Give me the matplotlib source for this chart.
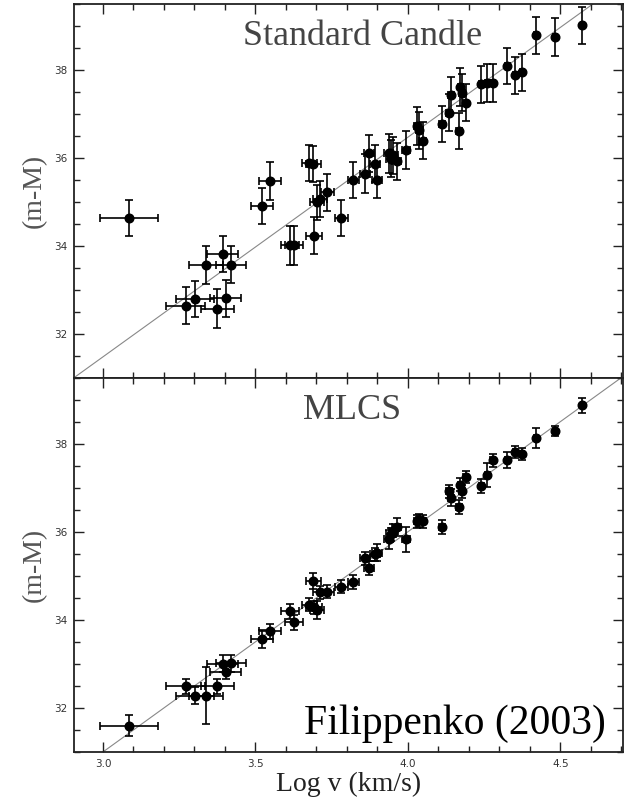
import matplotlib.pyplot as plt
from matplotlib.ticker import MultipleLocator

# log v (km/s) for each supernova, shared by both panels
log_v = [3.085, 3.272, 3.302, 3.339, 3.375, 3.392, 3.402, 3.419,
         3.523, 3.548, 3.613, 3.627, 3.677, 3.690, 3.692, 3.703,
         3.712, 3.736, 3.782, 3.821, 3.860, 3.873, 3.891, 3.899,
         3.937, 3.944, 3.952, 3.963, 3.995, 4.031, 4.037, 4.048,
         4.112, 4.134, 4.142, 4.167, 4.172, 4.177, 4.189, 4.240,
         4.260, 4.278, 4.326, 4.351, 4.373, 4.420, 4.482, 4.572]
log_v_err = [0.096, 0.064, 0.062, 0.056, 0.055, 0.050, 0.050, 0.050,
             0.036, 0.035, 0.030, 0.030, 0.025, 0.025, 0.025, 0.023,
             0.023, 0.022, 0.020, 0.018, 0.017, 0.017, 0.016, 0.016,
             0.015, 0.015, 0.015, 0.014, 0.013, 0.012, 0.012, 0.012,
             0.010, 0.010, 0.010, 0.009, 0.009, 0.009, 0.009, 0.008,
             0.008, 0.008, 0.007, 0.007, 0.007, 0.006, 0.006, 0.005]

# distance modulus, standard candle assumption
mu_sc = [34.63, 32.63, 32.79, 33.56, 32.57, 33.81, 32.80, 33.57,
         34.91, 35.47, 34.01, 34.01, 35.88, 35.85, 34.23, 34.99,
         35.06, 35.22, 34.63, 35.49, 35.64, 36.10, 35.87, 35.50,
         36.10, 35.98, 36.06, 35.92, 36.17, 36.72, 36.63, 36.39,
         36.76, 37.03, 37.43, 36.62, 37.62, 37.48, 37.25, 37.67,
         37.70, 37.71, 38.09, 37.88, 37.95, 38.79, 38.75, 39.02]
mu_sc_err = [0.42, 0.42, 0.41, 0.43, 0.44, 0.40, 0.42, 0.42,
             0.41, 0.43, 0.44, 0.44, 0.41, 0.41, 0.42, 0.40,
             0.41, 0.42, 0.42, 0.41, 0.44, 0.43, 0.41, 0.41,
             0.44, 0.42, 0.42, 0.42, 0.43, 0.43, 0.42, 0.42,
             0.41, 0.42, 0.40, 0.41, 0.43, 0.42, 0.42, 0.42,
             0.43, 0.43, 0.40, 0.42, 0.42, 0.42, 0.44, 0.42]

# distance modulus, MLCS corrected
mu_mlcs = [31.60, 32.49, 32.28, 32.28, 32.49, 33.00, 32.82, 33.01,
           33.56, 33.74, 34.19, 33.94, 34.34, 34.88, 34.28, 34.22,
           34.62, 34.64, 34.75, 34.85, 35.40, 35.18, 35.49, 35.52,
           35.83, 35.94, 36.02, 36.11, 35.83, 36.24, 36.26, 36.24,
           36.11, 36.92, 36.77, 36.56, 37.07, 36.92, 37.24, 37.03,
           37.28, 37.62, 37.62, 37.81, 37.77, 38.13, 38.29, 38.87]
mu_mlcs_err = [0.23, 0.17, 0.20, 0.64, 0.17, 0.19, 0.17, 0.20,
               0.20, 0.17, 0.17, 0.17, 0.15, 0.18, 0.15, 0.20,
               0.15, 0.15, 0.15, 0.16, 0.15, 0.16, 0.15, 0.19,
               0.22, 0.15, 0.15, 0.20, 0.28, 0.15, 0.15, 0.15,
               0.16, 0.15, 0.19, 0.15, 0.15, 0.15, 0.13, 0.16,
               0.27, 0.14, 0.18, 0.13, 0.14, 0.23, 0.12, 0.17]

# Hubble line: mu = 5 log v + c
slope = 5.0
icpt_sc = 16.47
icpt_mlcs = 16.0

serif = ['Liberation Serif', 'DejaVu Serif']

fig = plt.figure(figsize=(6.29, 8.01), dpi=100)
ax1 = fig.add_axes([0.1176, 0.5287, 0.8729, 0.4663])
ax2 = fig.add_axes([0.1176, 0.0612, 0.8729, 0.4675])

panels = [(ax1, mu_sc, mu_sc_err, icpt_sc, 'Standard Candle', 0.526),
          (ax2, mu_mlcs, mu_mlcs_err, icpt_mlcs, 'MLCS', 0.506)]

for ax, mu, mu_err, icpt, name, tx in panels:
    xl = [2.9, 4.72]
    ax.plot(xl, [slope * x + icpt for x in xl], color='#888888', lw=0.8, zorder=1)
    ax.errorbar(log_v, mu, xerr=log_v_err, yerr=mu_err, fmt='o', color='black',
                ms=6.2, elinewidth=1.2, capsize=3.2, capthick=1.2, zorder=2)
    ax.set_xlim(2.905, 4.705)
    ax.set_ylim(31.0, 39.5)
    ax.xaxis.set_major_locator(MultipleLocator(0.5))
    ax.xaxis.set_minor_locator(MultipleLocator(0.1))
    ax.yaxis.set_major_locator(MultipleLocator(2))
    ax.yaxis.set_minor_locator(MultipleLocator(0.5))
    ax.tick_params(which='both', direction='in', top=True, right=True,
                   colors='#222222', labelcolor='#333333', labelsize=7.5)
    ax.tick_params(which='major', length=7, width=1, pad=5)
    ax.tick_params(which='minor', length=4.5, width=1)
    for sp in ax.spines.values():
        sp.set_linewidth(1.3)
        sp.set_color('#222222')
    ax.set_ylabel('(m-M)', family=serif, fontsize=20, color='#555555', labelpad=5)
    ax.text(tx, 0.912, name, transform=ax.transAxes, ha='center', va='center',
            family=serif, fontsize=26, color='#444444')

ax1.tick_params(labelbottom=False)
ax2.set_xlabel('Log v (km/s)', family=serif, fontsize=20, color='#222222', labelpad=2)
ax2.text(0.968, 0.075, 'Filippenko (2003)', transform=ax2.transAxes, ha='right',
         va='center', family=serif, fontsize=30, color='black')

fig.savefig('out.png', dpi=100)
